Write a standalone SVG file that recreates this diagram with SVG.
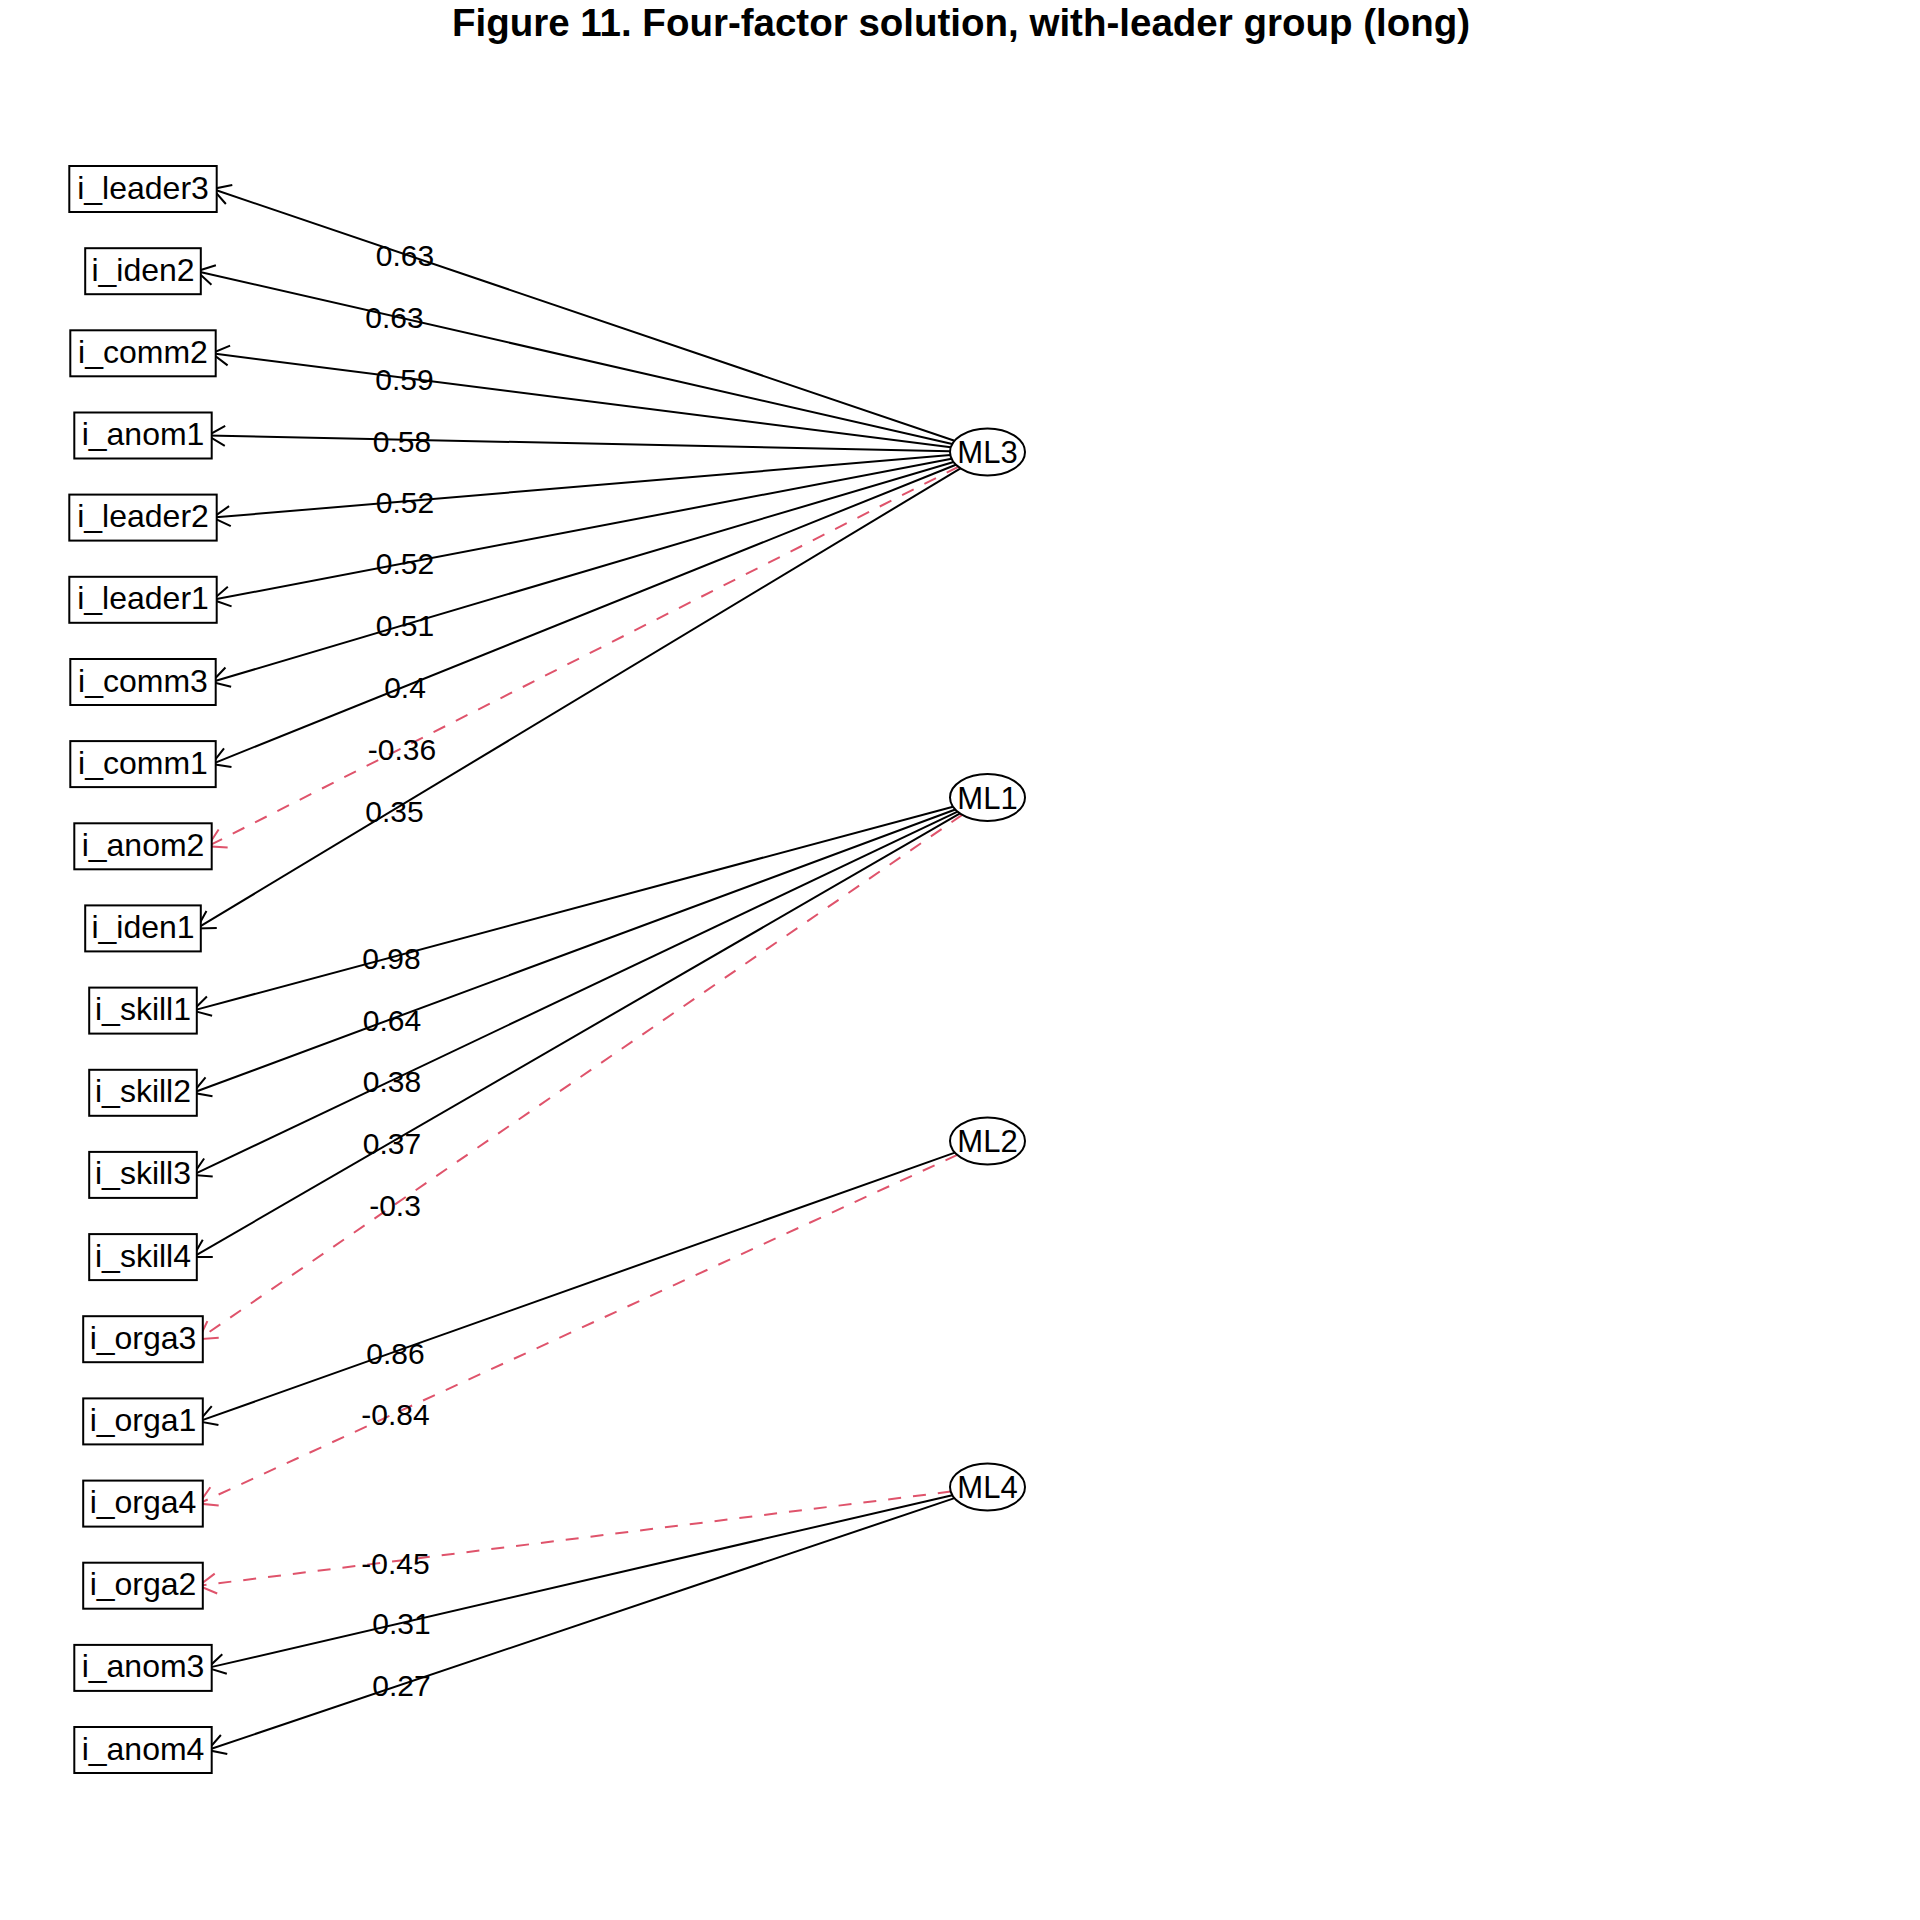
<svg xmlns="http://www.w3.org/2000/svg" width="1920" height="1920" viewBox="0 0 1920 1920">
  <style>
    .node rect { fill: #fff; stroke: #000; stroke-width: 2; }
    .node ellipse { fill: #fff; stroke: #000; stroke-width: 2; }
    .node text { font-family: "Liberation Sans", Arial, sans-serif; font-size: 32px; fill: #000; text-anchor: middle; }
    .latent text { font-size: 31px; }
    .pos { stroke: #000; stroke-width: 2; fill: none; marker-end: url(#ahBlack); }
    .neg { stroke: #DF536B; stroke-width: 2; fill: none; stroke-dasharray: 13 12; marker-end: url(#ahRed); }
    .lbl { font-family: "Liberation Sans", Arial, sans-serif; font-size: 30px; fill: #000; text-anchor: middle; }
    .title { font-family: "Liberation Sans", Arial, sans-serif; font-size: 38.5px; font-weight: bold; text-anchor: middle; fill: #000; }
  </style>
  <defs>
    <marker id="ahBlack" markerUnits="userSpaceOnUse" orient="auto" refX="0" refY="0" markerWidth="40" markerHeight="40" overflow="visible">
      <path d="M-17.3,-10 L0,0 L-17.3,10" fill="none" stroke="#000" stroke-width="2"/>
    </marker>
    <marker id="ahRed" markerUnits="userSpaceOnUse" orient="auto" refX="0" refY="0" markerWidth="40" markerHeight="40" overflow="visible">
      <path d="M-17.3,-10 L0,0 L-17.3,10" fill="none" stroke="#DF536B" stroke-width="2"/>
    </marker>
  </defs>

  <rect width="1920" height="1920" fill="#fff"/>

  <text class="title" x="961" y="36">Figure 11. Four-factor solution, with-leader group (long)</text>

  <!-- loadings: latent factor to observed item -->
  <g id="connectors">
    <line class="pos" x1="954.5" y1="440.8" x2="212.7" y2="189"/>
    <line class="pos" x1="952.3" y1="444.0" x2="196.8" y2="271.2"/>
    <line class="pos" x1="950.8" y1="447.3" x2="211.7" y2="353.3"/>
    <line class="pos" x1="950.0" y1="451.2" x2="207.7" y2="435.5"/>
    <line class="pos" x1="950.3" y1="455.1" x2="212.7" y2="517.6"/>
    <line class="pos" x1="951.6" y1="458.8" x2="212.7" y2="599.8"/>
    <line class="pos" x1="953.6" y1="462.0" x2="211.7" y2="682"/>
    <line class="pos" x1="955.9" y1="464.7" x2="211.7" y2="764.1"/>
    <line class="neg" x1="958.3" y1="466.8" x2="207.7" y2="846.3"/>
    <line class="pos" x1="960.5" y1="468.3" x2="196.8" y2="928.4"/>

    <line class="pos" x1="953.0" y1="806.7" x2="192.8" y2="1010.6"/>
    <line class="pos" x1="955.3" y1="809.5" x2="192.8" y2="1092.8"/>
    <line class="pos" x1="957.6" y1="811.7" x2="192.8" y2="1174.9"/>
    <line class="pos" x1="960.0" y1="813.4" x2="192.8" y2="1257.1"/>
    <line class="neg" x1="962.2" y1="814.9" x2="198.8" y2="1339.2"/>

    <line class="pos" x1="954.9" y1="1152.6" x2="198.8" y2="1421.4"/>
    <line class="neg" x1="957.3" y1="1154.9" x2="198.8" y2="1503.6"/>

    <line class="neg" x1="950.7" y1="1491.6" x2="198.8" y2="1585.7"/>
    <line class="pos" x1="952.3" y1="1495.2" x2="207.7" y2="1667.9"/>
    <line class="pos" x1="954.5" y1="1498.1" x2="207.7" y2="1750"/>

    <text class="lbl" x="405" y="265.5">0.63</text>
    <text class="lbl" x="394.5" y="327.5">0.63</text>
    <text class="lbl" x="404.5" y="389.5">0.59</text>
    <text class="lbl" x="402" y="451.5">0.58</text>
    <text class="lbl" x="405" y="512.5">0.52</text>
    <text class="lbl" x="405" y="573.5">0.52</text>
    <text class="lbl" x="405" y="635.5">0.51</text>
    <text class="lbl" x="405" y="697.5">0.4</text>
    <text class="lbl" x="402" y="759.5">-0.36</text>
    <text class="lbl" x="394.5" y="821.5">0.35</text>
    <text class="lbl" x="391.5" y="968.5">0.98</text>
    <text class="lbl" x="392" y="1030.5">0.64</text>
    <text class="lbl" x="392" y="1091.5">0.38</text>
    <text class="lbl" x="392" y="1153.5">0.37</text>
    <text class="lbl" x="395" y="1215.5">-0.3</text>
    <text class="lbl" x="395.5" y="1363.5">0.86</text>
    <text class="lbl" x="395.5" y="1424.5">-0.84</text>
    <text class="lbl" x="395.5" y="1573.5">-0.45</text>
    <text class="lbl" x="401.5" y="1633.5">0.31</text>
    <text class="lbl" x="401.5" y="1695.5">0.27</text>
  </g>

  <!-- observed items -->
  <g id="i_leader3" class="node"><rect x="69.3" y="166" width="147.4" height="46"/><text x="143" y="198.5">i_leader3</text></g>
  <g id="i_iden2" class="node"><rect x="85.2" y="248.2" width="115.6" height="46"/><text x="143" y="280.7">i_iden2</text></g>
  <g id="i_comm2" class="node"><rect x="70.3" y="330.3" width="145.4" height="46"/><text x="143" y="362.8">i_comm2</text></g>
  <g id="i_anom1" class="node"><rect x="74.3" y="412.5" width="137.4" height="46"/><text x="143" y="445">i_anom1</text></g>
  <g id="i_leader2" class="node"><rect x="69.3" y="494.6" width="147.4" height="46"/><text x="143" y="527.1">i_leader2</text></g>
  <g id="i_leader1" class="node"><rect x="69.3" y="576.8" width="147.4" height="46"/><text x="143" y="609.3">i_leader1</text></g>
  <g id="i_comm3" class="node"><rect x="70.3" y="659" width="145.4" height="46"/><text x="143" y="691.5">i_comm3</text></g>
  <g id="i_comm1" class="node"><rect x="70.3" y="741.1" width="145.4" height="46"/><text x="143" y="773.6">i_comm1</text></g>
  <g id="i_anom2" class="node"><rect x="74.3" y="823.3" width="137.4" height="46"/><text x="143" y="855.8">i_anom2</text></g>
  <g id="i_iden1" class="node"><rect x="85.2" y="905.4" width="115.6" height="46"/><text x="143" y="937.9">i_iden1</text></g>
  <g id="i_skill1" class="node"><rect x="89.2" y="987.6" width="107.6" height="46"/><text x="143" y="1020.1">i_skill1</text></g>
  <g id="i_skill2" class="node"><rect x="89.2" y="1069.8" width="107.6" height="46"/><text x="143" y="1102.3">i_skill2</text></g>
  <g id="i_skill3" class="node"><rect x="89.2" y="1151.9" width="107.6" height="46"/><text x="143" y="1184.4">i_skill3</text></g>
  <g id="i_skill4" class="node"><rect x="89.2" y="1234.1" width="107.6" height="46"/><text x="143" y="1266.6">i_skill4</text></g>
  <g id="i_orga3" class="node"><rect x="83.2" y="1316.2" width="119.6" height="46"/><text x="143" y="1348.7">i_orga3</text></g>
  <g id="i_orga1" class="node"><rect x="83.2" y="1398.4" width="119.6" height="46"/><text x="143" y="1430.9">i_orga1</text></g>
  <g id="i_orga4" class="node"><rect x="83.2" y="1480.6" width="119.6" height="46"/><text x="143" y="1513.1">i_orga4</text></g>
  <g id="i_orga2" class="node"><rect x="83.2" y="1562.7" width="119.6" height="46"/><text x="143" y="1595.2">i_orga2</text></g>
  <g id="i_anom3" class="node"><rect x="74.3" y="1644.9" width="137.4" height="46"/><text x="143" y="1677.4">i_anom3</text></g>
  <g id="i_anom4" class="node"><rect x="74.3" y="1727" width="137.4" height="46"/><text x="143" y="1759.5">i_anom4</text></g>

  <!-- latent factors -->
  <g id="ML3" class="node latent"><ellipse cx="987.5" cy="452" rx="37.5" ry="23.5"/><text x="987.5" y="463">ML3</text></g>
  <g id="ML1" class="node latent"><ellipse cx="987.5" cy="797.5" rx="37.5" ry="23.5"/><text x="987.5" y="808.5">ML1</text></g>
  <g id="ML2" class="node latent"><ellipse cx="987.5" cy="1141" rx="37.5" ry="23.5"/><text x="987.5" y="1152">ML2</text></g>
  <g id="ML4" class="node latent"><ellipse cx="987.5" cy="1487" rx="37.5" ry="23.5"/><text x="987.5" y="1498">ML4</text></g>
</svg>
